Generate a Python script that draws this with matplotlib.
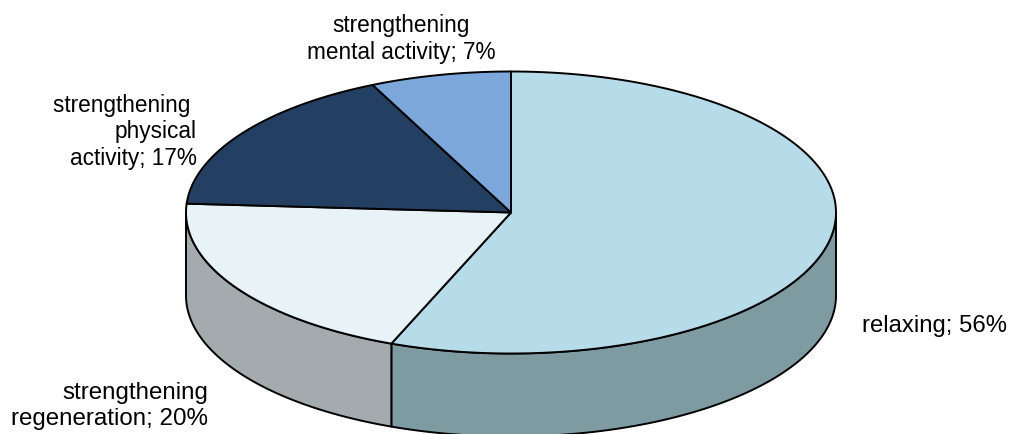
import numpy as np
import matplotlib
matplotlib.use("Agg")
import matplotlib.pyplot as plt
from matplotlib.patches import Polygon

# Share of each activity (percent), drawn clockwise from 12 o'clock
categories = ["relaxing", "strengthening regeneration",
              "strengthening physical activity", "strengthening mental activity"]
values = [56, 20, 17, 7]
labels = ["relaxing; 56%",
          "strengthening\nregeneration; 20%",
          "strengthening \nphysical\nactivity; 17%",
          "strengthening\nmental activity; 7%"]
top_colors = ["#B6DCEA", "#E8F3F8", "#233F61", "#7BA7DB"]
side_colors = ["#7E9BA2", "#A4ABAE", "#1A2F48", "#5C7DA4"]

# label placement: anchor x, first baseline y, horizontal alignment, size
label_pos = [(862, 332, "left", 17.2), (208, 399, "right", 17.4),
             (197, 112, "right", 16.3), (401, 32, "center", 16.3)]

W, H = 1009, 435
fig = plt.figure(figsize=(W / 100, H / 100), dpi=100)
ax = fig.add_axes([0, 0, 1, 1])
ax.set_xlim(0, W)
ax.set_ylim(H, 0)
ax.axis("off")

cx, cy, rx, ry, depth = 511, 213.5, 325, 141, 83
edge_kw = dict(edgecolor="black", linewidth=1.4, joinstyle="round")


def ell(theta, dz=0.0):
    t = np.radians(theta)
    return np.column_stack([cx + rx * np.cos(t), cy - ry * np.sin(t) + dz])


# slice angle ranges (degrees), clockwise from 90
total = float(sum(values))
starts, ends = [], []
a = 90.0
for v in values:
    starts.append(a)
    a -= 360.0 * v / total
    ends.append(a)

# front side walls (the part of each slice whose rim faces the viewer)
for s, e, col in zip(starts, ends, side_colors):
    for k in (-1, 0, 1):
        lo = max(e, -180 + 360 * k)
        hi = min(s, 0 + 360 * k)
        if hi - lo > 1e-6:
            th = np.linspace(lo, hi, 200)
            top = ell(th)
            bot = ell(th[::-1], depth)
            ax.add_patch(Polygon(np.vstack([top, bot]), closed=True,
                                 facecolor=col, **edge_kw))

# top faces
for s, e, col in zip(starts, ends, top_colors):
    th = np.linspace(s, e, 300)
    pts = np.vstack([[cx, cy], ell(th)])
    ax.add_patch(Polygon(pts, closed=True, facecolor=col, **edge_kw))

# labels
line_gap = 26.5
for text, (x, y, ha, size) in zip(labels, label_pos):
    for i, line in enumerate(text.split("\n")):
        ax.text(x, y + i * line_gap, line, ha=ha, va="baseline",
                fontsize=size, family=["Liberation Sans", "DejaVu Sans"],
                color="black")

fig.savefig("out.png", dpi=100)
